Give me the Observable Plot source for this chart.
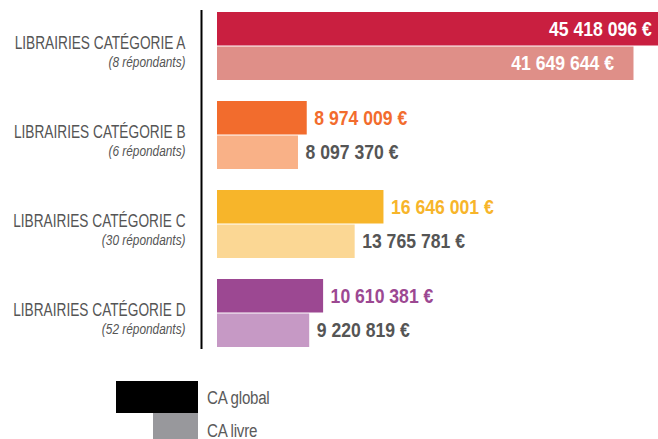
<!DOCTYPE html>
<html>
<head>
<meta charset="utf-8">
<script src="https://cdn.jsdelivr.net/npm/d3@7"></script>
<script src="https://cdn.jsdelivr.net/npm/@observablehq/plot@0.6"></script>
<style>
  html, body { margin: 0; padding: 0; background: #fff; overflow: hidden; }
  #chart { width: 658px; }
  #legend { position: relative; height: 69px; width: 658px; font-family: "Liberation Sans", Arial, sans-serif; }
  #legend .sw { position: absolute; }
  #legend .lb { position: absolute; left: 207px; font-size: 18px; color: #5a5a5a; line-height: 14px; white-space: nowrap; transform: scaleX(0.84); transform-origin: left center; letter-spacing: -0.3px; }
</style>
</head>
<body>
<div id="chart"></div>
<div id="legend"></div>
<script>
const categories = ["LIBRAIRIES CATÉGORIE A", "LIBRAIRIES CATÉGORIE B", "LIBRAIRIES CATÉGORIE C", "LIBRAIRIES CATÉGORIE D"];
const respondents = ["(8 répondants)", "(6 répondants)", "(30 répondants)", "(52 répondants)"];
const caGlobal = [45418096, 8974009, 16646001, 10610381];
const caLivre = [41649644, 8097370, 13765781, 9220819];
const colorGlobal = ["#c91f40", "#f26c2d", "#f7b52a", "#9c4892"];
const colorLivre = ["#df8f88", "#f9b187", "#fbd794", "#c699c5"];
const legendLabels = ["CA global", "CA livre"];
const legendColors = ["#000000", "#98989c"];

const FONT = '"Liberation Sans", Arial, sans-serif';
const fmt = v => d3.format(",")(v).replace(/,/g, " ") + " €";

const rows = categories.map((c, i) => ({
  cat: c, resp: respondents[i],
  global: caGlobal[i], livre: caLivre[i],
  cg: colorGlobal[i], cl: colorLivre[i]
}));
const maxV = d3.max(caLivre);
const isInside = d => d.livre > maxV * 0.5;

const plot = Plot.plot({
  width: 658,
  height: 370,
  marginTop: 10,
  marginBottom: 21,
  marginLeft: 217,
  marginRight: 0,
  style: { fontFamily: FONT, background: "#fff" },
  x: { domain: [0, 44.1e6], axis: null },
  y: { domain: categories, paddingInner: 0.233, paddingOuter: 0, axis: null },
  marks: [
    Plot.barX(rows, { x: "global", y: "cat", fill: d => d.cg, insetBottom: 34.5, clip: true }),
    Plot.barX(rows, { x: "livre", y: "cat", fill: d => d.cl, insetTop: 34.5, clip: true }),
    Plot.ruleX([0], { dx: -16, stroke: "#000", strokeWidth: 2 }),
    Plot.text(rows, { y: "cat", text: "cat", frameAnchor: "left", dx: -32, dy: -3, textAnchor: "end", fontSize: 18, fill: "#555" }),
    Plot.text(rows, { y: "cat", text: "resp", frameAnchor: "left", dx: -32, dy: 16, textAnchor: "end", fontSize: 15, fontStyle: "italic", fill: "#555" }),
    Plot.text(rows.filter(d => !isInside(d)), { x: "global", y: "cat", text: d => fmt(d.global), dx: 7, dy: -17, textAnchor: "start", fontSize: 20, fontWeight: "bold", fill: d => d.cg }),
    Plot.text(rows.filter(d => !isInside(d)), { x: "livre", y: "cat", text: d => fmt(d.livre), dx: 7, dy: 17, textAnchor: "start", fontSize: 20, fontWeight: "bold", fill: "#555" }),
    Plot.text(rows.filter(isInside), { x: "global", y: "cat", text: d => fmt(d.global), dx: -20, dy: -17, textAnchor: "end", fontSize: 20, fontWeight: "bold", fill: "#fff" }),
    Plot.text(rows.filter(isInside), { x: "livre", y: "cat", text: d => fmt(d.livre), dx: -20, dy: 17, textAnchor: "end", fontSize: 20, fontWeight: "bold", fill: "#fff" })
  ]
});
document.getElementById("chart").appendChild(plot);

// condense the text horizontally (the original uses a narrow typeface)
const squeeze = [0.76, 0.79, 0.88, 0.88, 0.88, 0.88];
plot.querySelectorAll('g[aria-label="text"]').forEach((g, gi) => {
  const f = squeeze[gi] ?? 0.85;
  g.querySelectorAll("text").forEach(t => {
    const L = t.getComputedTextLength();
    t.setAttribute("textLength", (L * f).toFixed(2));
    t.setAttribute("lengthAdjust", "spacingAndGlyphs");
  });
});

// legend (HTML, below the SVG)
const legend = document.getElementById("legend");
const swatches = [
  { left: 116, top: 11, w: 82, h: 32 },
  { left: 153, top: 43, w: 45, h: 26 }
];
legendLabels.forEach((lab, i) => {
  const s = document.createElement("div");
  s.className = "sw";
  Object.assign(s.style, { left: swatches[i].left + "px", top: swatches[i].top + "px", width: swatches[i].w + "px", height: swatches[i].h + "px", background: legendColors[i] });
  legend.appendChild(s);
  const t = document.createElement("div");
  t.className = "lb";
  t.textContent = lab;
  t.style.top = (i === 0 ? 21 : 54) + "px";
  legend.appendChild(t);
});
</script>
</body>
</html>
